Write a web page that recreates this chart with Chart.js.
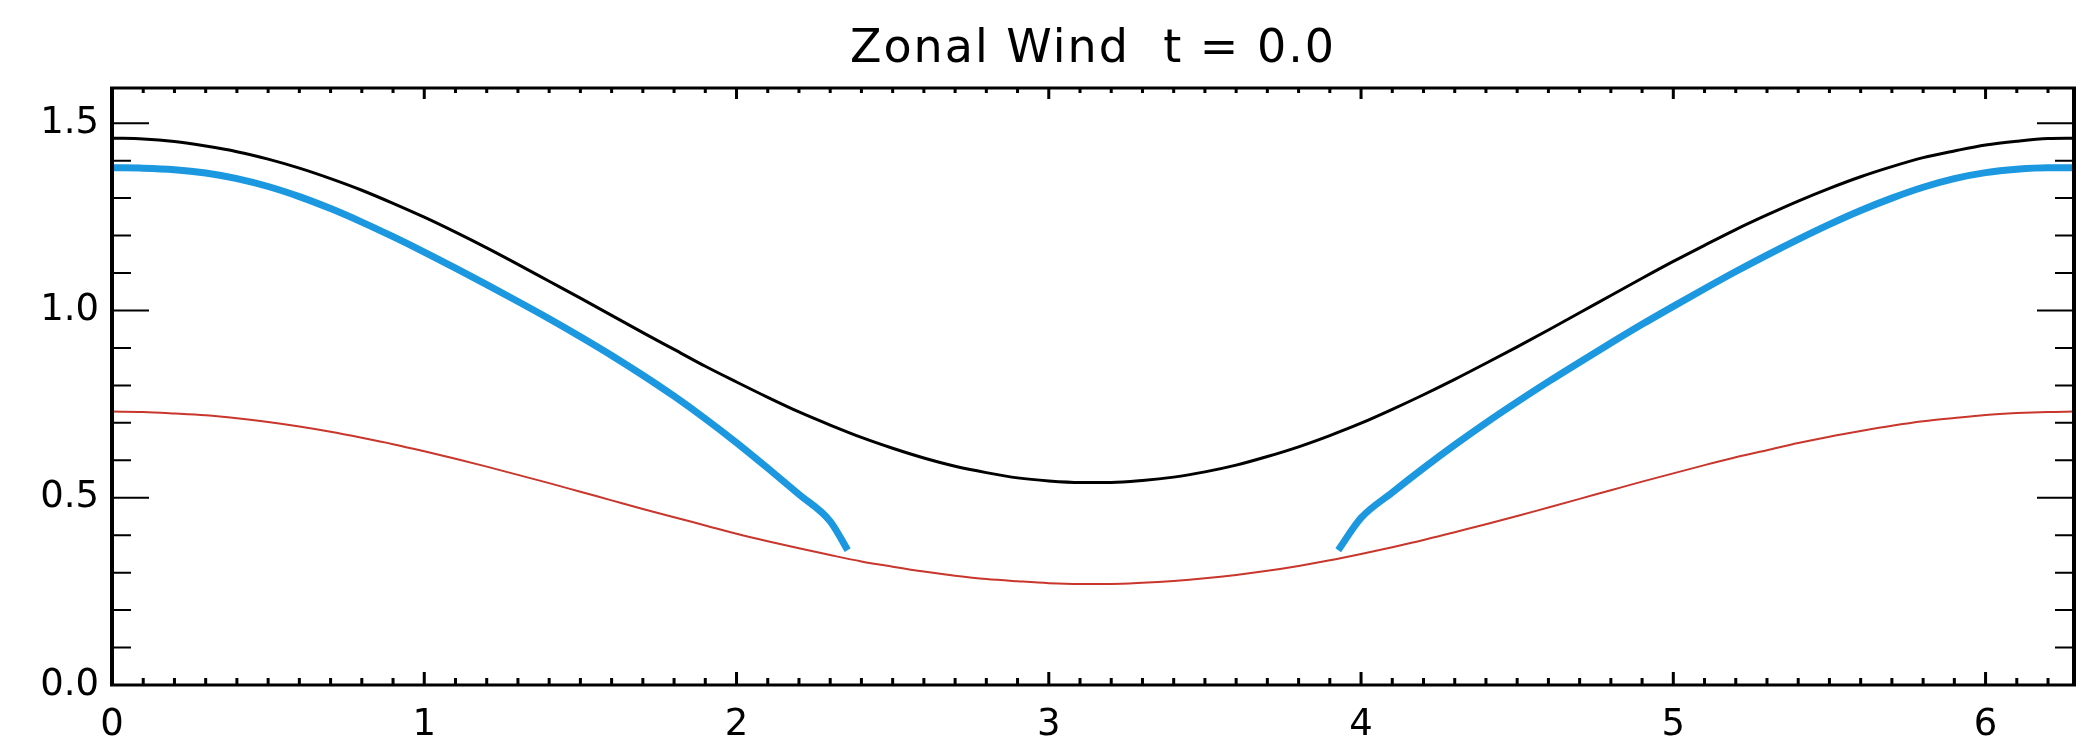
<!DOCTYPE html>
<html>
<head>
<meta charset="utf-8">
<title>Zonal Wind</title>
<script src="https://cdn.jsdelivr.net/npm/chart.js@4.4.1/dist/chart.umd.min.js"></script>
<style>
  html, body { margin: 0; padding: 0; background: #fff; }
  #wrap { width: 2091px; height: 751px; position: relative; }
</style>
</head>
<body>
<div id="wrap"><canvas id="windChart"></canvas></div>
<script>
const chartTitle = 'Zonal Wind  t = 0.0';

// x positions (longitude, 0 .. 2pi)
const windX = [0, 0.1, 0.2, 0.3, 0.4, 0.5, 0.6, 0.7, 0.8, 0.9,
    1.0, 1.1, 1.2, 1.3, 1.4, 1.5, 1.6, 1.7, 1.8, 1.9,
    2.0, 2.1, 2.2, 2.3, 2.4, 2.5, 2.6, 2.7, 2.8, 2.9,
    3.0, 3.1, 3.2, 3.3, 3.4, 3.5, 3.6, 3.7, 3.8, 3.9,
    4.0, 4.1, 4.2, 4.3, 4.4, 4.5, 4.6, 4.7, 4.8, 4.9,
    5.0, 5.1, 5.2, 5.3, 5.4, 5.5, 5.6, 5.7, 5.8, 5.9,
    6.0, 6.1, 6.2, 6.2832];

// black curve
const windBlack = [1.460, 1.458, 1.451, 1.439, 1.424, 1.404, 1.380, 1.352, 1.321, 1.286,
    1.249, 1.209, 1.167, 1.123, 1.078, 1.033, 0.987, 0.941, 0.896, 0.851,
    0.809, 0.768, 0.729, 0.694, 0.661, 0.632, 0.606, 0.584, 0.567, 0.553,
    0.545, 0.541, 0.541, 0.546, 0.555, 0.569, 0.587, 0.610, 0.636, 0.666,
    0.699, 0.736, 0.775, 0.816, 0.859, 0.903, 0.948, 0.994, 1.040, 1.086,
    1.131, 1.174, 1.216, 1.255, 1.292, 1.326, 1.357, 1.384, 1.408, 1.426,
    1.442, 1.452, 1.459, 1.460];

// red curve
const windRed = [0.730, 0.729, 0.725, 0.720, 0.712, 0.702, 0.690, 0.676, 0.660, 0.643,
    0.624, 0.604, 0.583, 0.561, 0.539, 0.516, 0.493, 0.470, 0.448, 0.426,
    0.404, 0.384, 0.365, 0.347, 0.330, 0.316, 0.303, 0.292, 0.283, 0.277,
    0.272, 0.270, 0.270, 0.273, 0.278, 0.285, 0.294, 0.305, 0.318, 0.333,
    0.350, 0.368, 0.387, 0.408, 0.429, 0.451, 0.474, 0.497, 0.520, 0.543,
    0.565, 0.587, 0.608, 0.627, 0.646, 0.663, 0.678, 0.692, 0.704, 0.713,
    0.721, 0.726, 0.729, 0.730];

// blue curve (two branches, gap in the middle)
const blueX = [0, 0.1, 0.2, 0.3, 0.4, 0.5, 0.6, 0.7, 0.8, 0.9,
    1.0, 1.1, 1.2, 1.3, 1.4, 1.5, 1.6, 1.7, 1.8, 1.9,
    2.0, 2.1, 2.2, 2.3, 2.356,
    3.14,
    3.927, 4.0, 4.1, 4.2, 4.3, 4.4, 4.5, 4.6, 4.7, 4.8, 4.9,
    5.0, 5.1, 5.2, 5.3, 5.4, 5.5, 5.6, 5.7, 5.8, 5.9,
    6.0, 6.1, 6.2, 6.2832];
const windBlue = [1.381, 1.380, 1.376, 1.367, 1.352, 1.331, 1.304, 1.272, 1.236, 1.197,
    1.156, 1.113, 1.069, 1.024, 0.978, 0.930, 0.880, 0.827, 0.771, 0.711,
    0.647, 0.579, 0.509, 0.437, 0.360,
    null,
    0.360, 0.446, 0.514, 0.579, 0.641, 0.700, 0.756, 0.810, 0.862, 0.913, 0.963,
    1.011, 1.058, 1.104, 1.148, 1.190, 1.230, 1.267, 1.300, 1.329, 1.352,
    1.368, 1.377, 1.381, 1.381];

// axis ticks
const xTickLabels = ['0', '1', '2', '3', '4', '5', '6'];
const yTickLabels = ['0.0', '0.5', '1.0', '1.5'];
const xMinorStep = 0.1;
const yMinorStep = 0.1;

function toPoints(xs, ys) {
    return xs.map((x, i) => ({ x: x, y: ys[i] }));
}

// Draws the IDL style box with inward ticks on all four sides, and the title over the plot
const frameTicks = {
    id: 'frameTicks',
    afterDraw(chart) {
        const { ctx, chartArea: a, scales: { x, y } } = chart;
        ctx.save();
        ctx.strokeStyle = '#000';
        ctx.lineCap = 'butt';

        // x ticks, bottom and top
        ctx.lineWidth = 3;
        const nx = Math.floor(x.max / xMinorStep + 1e-6);
        for (let i = 1; i <= nx; i++) {
            const v = i * xMinorStep;
            const px = x.getPixelForValue(v);
            const major = i % 10 === 0;
            ctx.beginPath();
            ctx.moveTo(px, a.bottom);
            ctx.lineTo(px, a.bottom - (major ? 13 : 7));
            ctx.moveTo(px, a.top);
            ctx.lineTo(px, a.top + (major ? 11 : 5));
            ctx.stroke();
        }

        // y ticks, left and right
        ctx.lineWidth = 2;
        const ny = Math.floor(y.max / yMinorStep + 1e-6);
        for (let i = 1; i <= ny; i++) {
            const v = i * yMinorStep;
            const py = y.getPixelForValue(v);
            const major = i % 5 === 0;
            const len = major ? 37 : 19;
            ctx.beginPath();
            ctx.moveTo(a.left, py);
            ctx.lineTo(a.left + len, py);
            ctx.moveTo(a.right, py);
            ctx.lineTo(a.right - len, py);
            ctx.stroke();
        }

        // frame
        ctx.lineWidth = 4;
        ctx.beginPath();
        ctx.moveTo(a.left, a.top);
        ctx.lineTo(a.left, a.bottom);
        ctx.moveTo(a.right, a.top);
        ctx.lineTo(a.right, a.bottom);
        ctx.stroke();
        ctx.lineWidth = 3;
        ctx.beginPath();
        ctx.moveTo(a.left - 2, a.top);
        ctx.lineTo(a.right + 2, a.top);
        ctx.moveTo(a.left - 2, a.bottom);
        ctx.lineTo(a.right + 2, a.bottom);
        ctx.stroke();

        // title, centred on the plot box
        ctx.fillStyle = '#000';
        ctx.font = '46px "DejaVu Sans"';
        ctx.letterSpacing = '2px';
        ctx.textAlign = 'center';
        ctx.textBaseline = 'middle';
        ctx.fillText(chartTitle, (a.left + a.right) / 2, 50);
        ctx.restore();
    }
};

function initializeChart() {
    new Chart(document.getElementById('windChart'), {
        type: 'line',
        data: {
            datasets: [{
                label: 'black',
                data: toPoints(windX, windBlack),
                borderColor: '#000000',
                borderWidth: 3,
                pointRadius: 0,
                cubicInterpolationMode: 'monotone'
            }, {
                label: 'red',
                data: toPoints(windX, windRed),
                borderColor: '#c8362c',
                borderWidth: 2,
                pointRadius: 0,
                cubicInterpolationMode: 'monotone'
            }, {
                label: 'blue',
                data: toPoints(blueX, windBlue),
                borderColor: '#1c98e0',
                borderWidth: 7,
                pointRadius: 0,
                spanGaps: false,
                cubicInterpolationMode: 'monotone'
            }]
        },
        options: {
            responsive: true,
            maintainAspectRatio: false,
            animation: false,
            layout: {
                padding: { left: 0, right: 17, top: 88, bottom: 0 }
            },
            plugins: {
                legend: { display: false },
                tooltip: { enabled: false },
                title: { display: false }
            },
            scales: {
                x: {
                    type: 'linear',
                    min: 0,
                    max: 6.2832,
                    grid: { display: false, drawTicks: false },
                    border: { display: false },
                    ticks: {
                        stepSize: 1,
                        includeBounds: false,
                        padding: 18,
                        maxRotation: 0,
                        color: '#000',
                        font: { family: 'DejaVu Sans', size: 37 },
                        callback: (v) => xTickLabels[Math.round(v)]
                    },
                    afterFit: (s) => { s.height = 66; }
                },
                y: {
                    type: 'linear',
                    min: 0,
                    max: 1.594,
                    grid: { display: false, drawTicks: false },
                    border: { display: false },
                    ticks: {
                        stepSize: 0.5,
                        includeBounds: false,
                        padding: 13,
                        color: '#000',
                        font: { family: 'DejaVu Sans', size: 37 },
                        callback: (v) => yTickLabels[Math.round(v * 2)]
                    },
                    afterFit: (s) => { s.width = 112; }
                }
            }
        },
        plugins: [frameTicks]
    });
}

document.addEventListener('DOMContentLoaded', initializeChart);
</script>
</body>
</html>
